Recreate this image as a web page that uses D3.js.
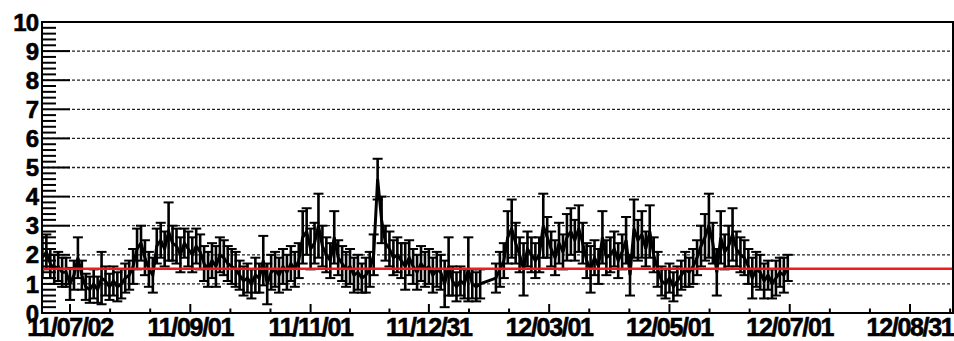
<!DOCTYPE html>
<html>
<head>
<meta charset="utf-8">
<script src="https://cdn.jsdelivr.net/npm/d3@7"></script>
<style>
  body { margin: 0; background: #fff; }
  text { font-family: "Liberation Sans", Arial, sans-serif; font-weight: bold; fill: #000; }
</style>
</head>
<body>
<div id="chart"></div>
<script>
// day offset from 2011-06-18, measured value, error
var days = [0,2,4,6,8,10,12,14,16,18,20,22,24,26,28,30,32,34,36,38,40,42,44,46,48,50,52,54,56,58,
  60,62,64,66,68,70,72,74,76,78,80,82,84,86,88,90,92,94,96,98,100,102,104,106,108,110,112,114,116,118,
  120,122,124,126,128,130,132,134,136,138,140,142,144,146,148,150,152,154,156,158,160,162,164,166,168,170,172,174,176,178,
  180,182,184,186,188,190,192,194,196,198,200,202,204,206,208,210,212,214,216,218,220,222,230,232,234,236,238,240,242,244,
  246,248,250,252,254,256,258,260,262,264,266,268,270,272,274,276,278,280,282,284,286,288,290,292,294,296,298,300,302,304,
  306,308,310,312,314,316,318,320,322,324,326,328,330,332,334,336,338,340,342,344,346,348,350,352,354,356,358,360,362,364,
  366,368,370,372,374,376,378];
var values = [1.9,2.1,1.7,1.5,1.6,1.4,1.4,1.0,1.3,1.9,1.3,0.9,0.8,1.0,0.8,1.2,1.1,0.9,1.1,0.9,1.0,1.2,1.3,1.6,2.2,2.4,1.9,1.5,1.3,2.3,
  2.5,2.2,2.8,2.4,2.3,2.0,2.4,2.2,2.0,2.3,2.1,1.7,1.5,1.8,1.6,2.0,1.9,1.7,1.6,1.5,1.3,1.1,1.2,1.0,1.3,1.2,1.8,1.0,1.4,1.5,
  1.3,1.6,1.4,1.7,1.5,1.8,2.6,2.8,2.2,2.4,3.0,2.3,2.0,1.8,2.6,1.9,1.7,1.5,1.6,1.3,1.4,1.2,1.3,1.5,2.0,4.6,3.2,2.4,2.2,1.9,
  2.0,1.8,1.6,1.9,1.6,1.4,1.7,1.5,1.6,1.3,1.5,1.4,1.0,1.6,1.1,0.9,1.1,1.0,1.5,1.0,0.9,1.0,1.2,1.5,1.8,2.6,2.9,2.4,2.0,1.5,
  2.2,2.0,1.8,2.0,3.0,2.6,2.2,1.9,2.4,2.1,2.6,2.8,2.5,2.9,2.4,1.8,1.5,1.9,1.6,2.6,1.9,2.0,2.2,1.8,2.1,2.5,1.3,2.9,2.5,2.7,
  2.2,2.8,2.0,1.5,1.1,1.0,1.2,0.9,1.1,1.3,1.5,1.4,1.6,1.9,2.3,2.6,3.0,2.4,1.4,2.6,2.1,2.3,2.7,2.2,2.0,1.9,1.6,1.2,1.5,1.4,
  1.1,1.3,1.0,1.2,1.4,1.3,1.55];
var errors = [0.7,0.6,0.5,0.5,0.5,0.5,0.5,0.55,0.5,0.7,0.5,0.45,0.45,0.5,0.45,0.9,0.5,0.45,0.5,0.5,0.5,0.5,0.5,0.6,0.7,0.6,0.6,0.6,0.6,0.6,
  0.6,0.6,1.0,0.6,0.6,0.6,0.5,0.6,0.6,0.6,0.6,0.6,0.6,0.6,0.7,0.6,0.6,0.6,0.6,0.6,0.5,0.5,0.5,0.5,0.6,0.5,0.85,0.7,0.6,0.6,
  0.6,0.6,0.6,0.6,0.6,0.6,0.9,0.8,0.7,0.7,1.1,0.7,0.6,0.6,0.9,0.6,0.6,0.6,0.6,0.6,0.6,0.5,0.6,0.6,0.7,0.7,0.8,0.6,0.6,0.6,
  0.6,0.6,0.8,0.6,0.6,0.6,0.6,0.6,0.6,0.6,0.6,0.6,0.8,1.0,0.5,0.5,0.5,0.5,1.1,0.5,0.5,0.5,0.5,0.6,0.6,0.9,1.0,0.7,0.6,0.9,
  0.6,0.6,0.6,0.6,1.1,0.7,0.6,0.6,0.7,0.6,0.8,0.8,0.7,0.8,0.7,0.6,0.8,0.6,0.6,0.9,0.6,0.6,0.6,0.6,0.6,0.8,0.7,1.0,0.7,0.8,
  0.6,0.9,0.6,0.6,0.5,0.5,0.5,0.5,0.5,0.5,0.6,0.5,0.6,0.6,0.7,0.8,1.1,0.7,0.8,0.9,0.6,0.7,0.9,0.6,0.6,0.6,0.6,0.7,0.6,0.6,
  0.6,0.5,0.5,0.6,0.5,0.6,0.45];
var meanValue = 1.52;

var tickLabels = ["11/07/02", "11/09/01", "11/11/01", "11/12/31", "12/03/01", "12/05/01", "12/07/01", "12/08/31"];
var yTicks = [0, 1, 2, 3, 4, 5, 6, 7, 8, 9, 10];

var width = 954, height = 341;
var mLeft = 42, mRight = 953, mTop = 22, mBottom = 313;

var parseLabel = d3.utcParse("%y/%m/%d");
var start = Date.UTC(2011, 5, 18);
var dayMs = 86400000;

var x = d3.scaleUtc()
  .domain([new Date(Date.UTC(2011, 5, 17, 19)), new Date(Date.UTC(2012, 8, 21, 19))])
  .range([mLeft, mRight]);
var y = d3.scaleLinear().domain([0, 10]).range([mBottom, mTop]);

var data = days.map(function(d, i) {
  return { t: new Date(start + d * dayMs), v: values[i], e: errors[i] };
});

var svg = d3.select("#chart").append("svg")
  .attr("width", width).attr("height", height);
svg.append("rect").attr("width", width).attr("height", height).attr("fill", "#fff");

svg.append("clipPath").attr("id", "plot")
  .append("rect").attr("x", mLeft).attr("y", mTop).attr("width", mRight - mLeft).attr("height", mBottom - mTop);

// grid
svg.append("g").selectAll("line")
  .data(yTicks.filter(function(v) { return v > 0 && v < 10; }))
  .enter().append("line")
  .attr("x1", mLeft).attr("x2", mRight)
  .attr("y1", function(v) { return y(v); }).attr("y2", function(v) { return y(v); })
  .attr("stroke", "#222").attr("stroke-width", 1.3)
  .attr("stroke-dasharray", "3,2");

// data
var g = svg.append("g").attr("clip-path", "url(#plot)");
var line = d3.line().x(function(d) { return x(d.t); }).y(function(d) { return y(d.v); });
g.append("path").datum(data).attr("d", line)
  .attr("fill", "none").attr("stroke", "#000").attr("stroke-width", 3);

var bars = g.selectAll(".eb").data(data).enter().append("g")
  .attr("stroke", "#000").attr("stroke-width", 2.6);
bars.append("line")
  .attr("x1", function(d) { return x(d.t); }).attr("x2", function(d) { return x(d.t); })
  .attr("y1", function(d) { return y(d.v - d.e); }).attr("y2", function(d) { return y(d.v + d.e); });
bars.append("line")
  .attr("x1", function(d) { return x(d.t) - 5; }).attr("x2", function(d) { return x(d.t) + 5; })
  .attr("y1", function(d) { return y(d.v + d.e); }).attr("y2", function(d) { return y(d.v + d.e); })
  .attr("stroke-width", 2);
bars.append("line")
  .attr("x1", function(d) { return x(d.t) - 5; }).attr("x2", function(d) { return x(d.t) + 5; })
  .attr("y1", function(d) { return y(d.v - d.e); }).attr("y2", function(d) { return y(d.v - d.e); })
  .attr("stroke-width", 2);

// mean line
svg.append("line")
  .attr("x1", mLeft).attr("x2", mRight)
  .attr("y1", y(meanValue)).attr("y2", y(meanValue))
  .attr("stroke", "#ee1c1c").attr("stroke-width", 2.5);

// y ticks
var ax = svg.append("g").attr("stroke", "#000");
yTicks.forEach(function(v) {
  ax.append("line").attr("x1", mLeft).attr("x2", mLeft + 28)
    .attr("y1", y(v)).attr("y2", y(v)).attr("stroke-width", 2);
  if (v < 10) {
    [0.2, 0.4, 0.6, 0.8].forEach(function(f) {
      ax.append("line").attr("x1", mLeft).attr("x2", mLeft + 14)
        .attr("y1", y(v + f)).attr("y2", y(v + f)).attr("stroke-width", 2);
    });
  }
});

// x ticks
var labelDates = tickLabels.map(parseLabel);
var xTicks = [];
labelDates.forEach(function(d, i) {
  xTicks.push({ t: d, major: true });
  var next = labelDates[i + 1] || new Date(+d + (d - labelDates[i - 1]));
  [1, 2].forEach(function(k) {
    xTicks.push({ t: new Date(+d + (next - d) * k / 3), major: false });
  });
});
xTicks.filter(function(d) { return x(d.t) >= mLeft && x(d.t) <= mRight; }).forEach(function(d) {
  ax.append("line").attr("x1", x(d.t)).attr("x2", x(d.t))
    .attr("y1", mBottom).attr("y2", mBottom - (d.major ? 9 : 4.5)).attr("stroke-width", 2);
});

// frame
svg.append("rect").attr("x", mLeft).attr("y", mTop).attr("width", mRight - mLeft).attr("height", mBottom - mTop)
  .attr("fill", "none").attr("stroke", "#000").attr("stroke-width", 2);

// labels
svg.append("g").selectAll("text").data(yTicks).enter().append("text")
  .attr("x", 38).attr("y", function(v) { return y(v); })
  .attr("dy", "0.36em").attr("text-anchor", "end")
  .style("font-size", "24px").style("letter-spacing", "-1px")
  .style("stroke", "#000").style("stroke-width", "0.6px")
  .text(function(v) { return v; });

svg.append("g").selectAll("text").data(tickLabels).enter().append("text")
  .attr("x", function(s) { return x(parseLabel(s)); }).attr("y", 336)
  .attr("text-anchor", "middle")
  .style("font-size", "25px").style("letter-spacing", "-1.3px")
  .style("stroke", "#000").style("stroke-width", "0.6px")
  .text(function(s) { return s; });
</script>
</body>
</html>
